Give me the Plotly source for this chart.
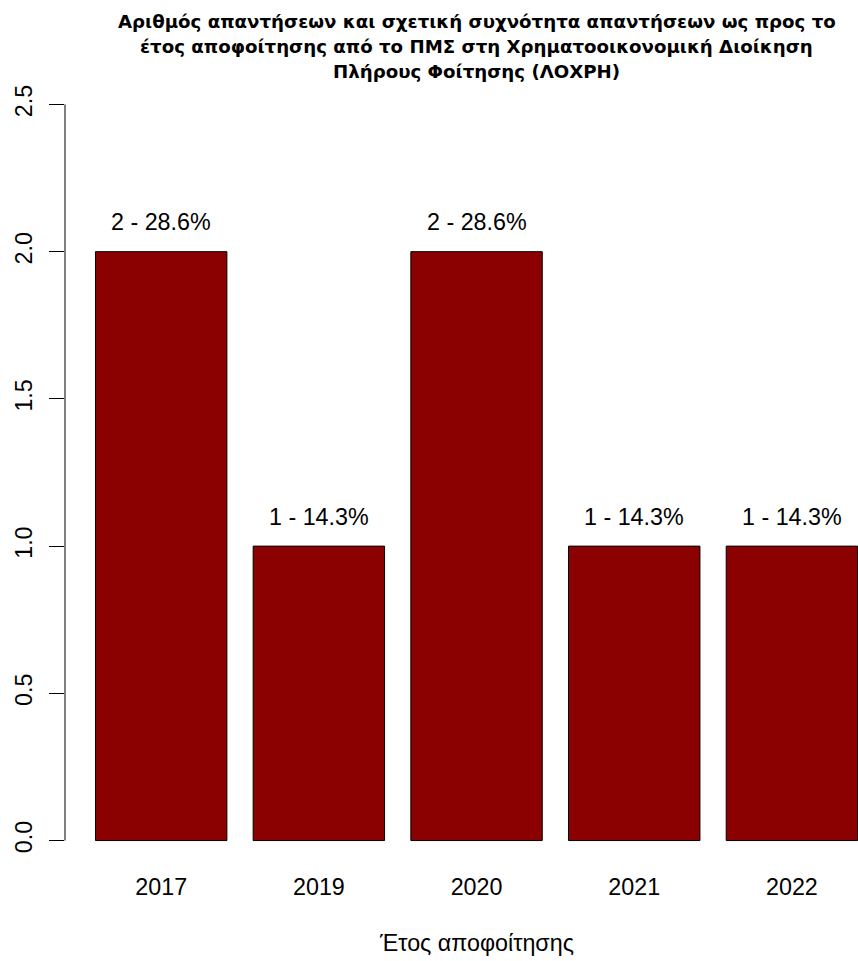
import plotly.graph_objects as go

years = ["2017", "2019", "2020", "2021", "2022"]
counts = [2, 1, 2, 1, 1]
pct_labels = ["2 - 28.6%", "1 - 14.3%", "2 - 28.6%", "1 - 14.3%", "1 - 14.3%"]
ytick_vals = [0, 0.5, 1.0, 1.5, 2.0, 2.5]
ytick_text = ["0.0", "0.5", "1.0", "1.5", "2.0", "2.5"]
title_lines = [
    "Αριθμός απαντήσεων και σχετική συχνότητα απαντήσεων ως προς το",
    "έτος αποφοίτησης από το ΠΜΣ στη Χρηματοοικονομική Διοίκηση",
    "Πλήρους Φοίτησης (ΛΟΧΡΗ)",
]
xlabel = "Έτος αποφοίτησης"

# R barplot-style positions (width 1, space 0.2)
centers = [0.7 + 1.2 * i for i in range(len(years))]

FONT = "Liberation Sans, Arial, sans-serif"
TFONT = "DejaVu Sans, sans-serif"
FS = 23.3
W, H = 858, 961
ML, MR, MT = 65, 0, 75
MB = H - 870

fig = go.Figure()
fig.add_trace(go.Bar(
    x=centers, y=counts, width=1.0,
    marker=dict(color="#8B0000", line=dict(color="#000000", width=1)),
    hoverinfo="skip",
))

annotations = []
for c, v, t in zip(centers, counts, pct_labels):
    annotations.append(dict(x=c, y=v + 0.1, xref="x", yref="y", text=t,
                            showarrow=False, xanchor="center", yanchor="middle",
                            font=dict(family=FONT, size=FS, color="#000")))

plot_h = H - MT - MB
def ypaper(px):
    return (H - MB - px) / plot_h

for line, ypx in zip(title_lines, [21, 46, 71]):
    annotations.append(dict(x=3.1, y=ypaper(ypx), xref="x", yref="paper",
                            text="<b>" + line + "</b>", showarrow=False,
                            xanchor="center", yanchor="middle",
                            font=dict(family=TFONT, size=18.2, color="#000")))
annotations.append(dict(x=3.1, y=ypaper(943), xref="x", yref="paper",
                        text=xlabel, showarrow=False, xanchor="center",
                        yanchor="middle",
                        font=dict(family=FONT, size=FS, color="#000")))

fig.update_layout(
    width=W, height=H,
    margin=dict(l=ML, r=MR, t=MT, b=MB, pad=0),
    paper_bgcolor="white", plot_bgcolor="white",
    showlegend=False,
    annotations=annotations,
    shapes=[dict(type="line", xref="paper", yref="y", x0=0, x1=0,
                 y0=0, y1=2.5, line=dict(color="#000", width=1))],
    xaxis=dict(range=[-0.032, 6.003], showgrid=False, zeroline=False,
               showline=False, tickvals=centers, ticktext=years, ticks="",
               tickfont=dict(family=FONT, size=FS, color="#000"),
               ticklabelstandoff=1),
    yaxis=dict(range=[-0.1, 2.6], showgrid=False, zeroline=False,
               showline=False, tickvals=ytick_vals, ticktext=ytick_text,
               ticks="outside", ticklen=15, tickcolor="#000", tickwidth=1,
               tickangle=-90,
               tickfont=dict(family=FONT, size=FS, color="#000"),
               ticklabelstandoff=8),
)

fig.write_html(
    "out.html",
    config={"displayModeBar": False},
    post_script="document.body.style.margin='0';document.body.style.overflow='hidden';",
)
